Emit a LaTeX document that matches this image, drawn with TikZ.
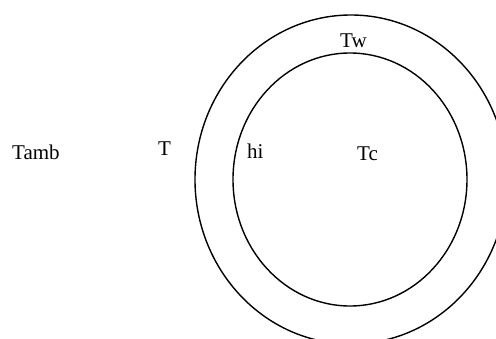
\documentclass[tikz,border=0pt]{standalone}
\usepackage{fontspec}
\setmainfont{Liberation Serif}
\begin{document}
\begin{tikzpicture}[x=1pt,y=-1pt,
  lbl/.style={anchor=base west,inner sep=0pt,font=\fontsize{21}{24}\selectfont},
  ring/.style={draw=black,line width=1.4pt}]
\useasboundingbox (0,0) rectangle (496,338);
\clip (0,0) rectangle (496,338);
\fill[white] (0,0) rectangle (496,338);
\draw[ring] (351,179.5) ellipse [x radius=156, y radius=164.5];
\draw[ring] (350,179.5) ellipse [x radius=117, y radius=126.5];
\node[lbl] (tamb) at (12,159) {Tamb};
\node[lbl] (t) at (158,155) {T};
\node[lbl] (hi) at (247,158) {hi};
\node[lbl] (tc) at (357,160) {Tc};
\node[lbl] (tw) at (340,47) {Tw};
\end{tikzpicture}
\end{document}
